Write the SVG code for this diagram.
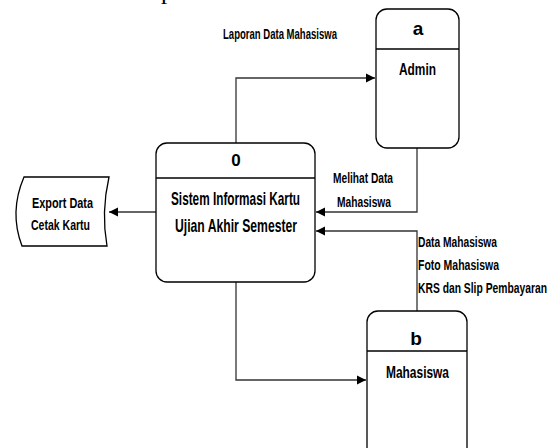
<svg xmlns="http://www.w3.org/2000/svg" width="555" height="448" viewBox="0 0 555 448">
<defs>
<marker id="arr" markerWidth="10" markerHeight="10" refX="9" refY="5" orient="auto" markerUnits="userSpaceOnUse">
<path d="M0,0.5 L9,5 L0,9.5 Z" fill="#000"/>
</marker>
<style>
.box{fill:#fff;stroke:#000;stroke-width:1.3}
.div{stroke:#000;stroke-width:1.3}
.con{fill:none;stroke:#333;stroke-width:1.3}
text{font-family:"Liberation Sans Narrow","Liberation Sans",Arial,sans-serif;font-weight:bold;fill:#000}
.lbl{font-size:15px}
.big{font-size:19px;text-anchor:middle}
.mid{font-size:17px;text-anchor:middle}
.cap{font-family:"Liberation Serif","Times New Roman",serif;font-weight:normal;font-size:20px}
</style>
</defs>
<rect width="555" height="448" fill="#fff"/>
<text class="cap" x="66" y="-1" textLength="274" lengthAdjust="spacingAndGlyphs">beserta laporan mahasiswa.</text>

<g id="connectors">
<path class="con" d="M236,143 V78 H375" marker-end="url(#arr)"/>
<path class="con" d="M417,148 V212 H316" marker-end="url(#arr)"/>
<path class="con" d="M417,311 V231 H316" marker-end="url(#arr)"/>
<path class="con" d="M236,282 V380 H366" marker-end="url(#arr)"/>
<path class="con" d="M156,212 H109" marker-end="url(#arr)"/>
<text class="lbl" x="223" y="39" textLength="114" lengthAdjust="spacingAndGlyphs">Laporan Data Mahasiswa</text>
<text class="lbl" x="333" y="183" textLength="60" lengthAdjust="spacingAndGlyphs">Melihat Data</text>
<text class="lbl" x="337" y="207" textLength="54" lengthAdjust="spacingAndGlyphs">Mahasiswa</text>
<text class="lbl" x="418" y="247" textLength="79" lengthAdjust="spacingAndGlyphs">Data Mahasiswa</text>
<text class="lbl" x="418" y="270" textLength="81" lengthAdjust="spacingAndGlyphs">Foto Mahasiswa</text>
<text class="lbl" x="418" y="293" textLength="129" lengthAdjust="spacingAndGlyphs">KRS dan Slip Pembayaran</text>
</g>

<g id="process0">
<rect class="box" x="156" y="143" width="159" height="139" rx="11"/>
<line class="div" x1="156" y1="178" x2="315" y2="178"/>
<text class="mid" x="236" y="166">0</text>
<text class="big" x="235.5" y="205" textLength="129" lengthAdjust="spacingAndGlyphs">Sistem Informasi Kartu</text>
<text class="big" x="236" y="232" textLength="122" lengthAdjust="spacingAndGlyphs">Ujian Akhir Semester</text>
</g>

<g id="entityA">
<rect class="box" x="376" y="9" width="83" height="139" rx="11"/>
<line class="div" x1="376" y1="49" x2="459" y2="49"/>
<text class="mid" x="418" y="35" style="font-size:19px">a</text>
<text class="mid" x="417.5" y="75" textLength="37" lengthAdjust="spacingAndGlyphs">Admin</text>
</g>

<g id="entityB">
<rect class="box" x="367" y="311" width="100" height="160" rx="11"/>
<line class="div" x1="367" y1="351" x2="467" y2="351"/>
<text class="mid" x="416" y="345" style="font-size:19px">b</text>
<text class="mid" x="417.5" y="378" textLength="63" lengthAdjust="spacingAndGlyphs">Mahasiswa</text>
</g>

<g id="export">
<path class="box" d="M24,177 H109 Q101,212 107,246 H22 Q9,212 24,177 Z"/>
<text class="lbl" x="32" y="208" textLength="61" lengthAdjust="spacingAndGlyphs">Export Data</text>
<text class="lbl" x="31" y="230" textLength="59" lengthAdjust="spacingAndGlyphs">Cetak Kartu</text>
</g>
</svg>
